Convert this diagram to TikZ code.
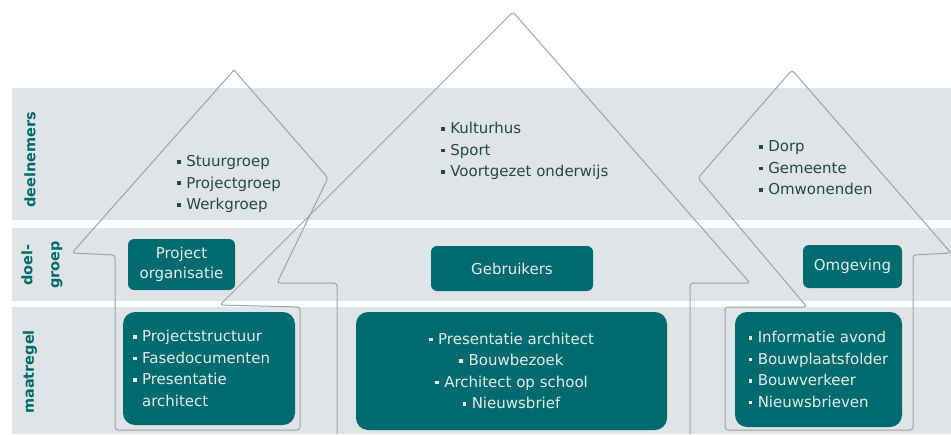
\documentclass[tikz,border=0pt]{standalone}
\usepackage{fontspec}
\setmainfont{DejaVu Sans}

\definecolor{bandgray}{HTML}{DFE5E6}
\definecolor{tealdark}{HTML}{006B6E}
\definecolor{linegray}{HTML}{A0A2A3}
\definecolor{listtext}{HTML}{24474C}
\definecolor{boxtext}{HTML}{E4ECEC}

% 小さな四角の箇条書き記号
\newcommand{\sqblt}{\raisebox{3pt}{\rule{3.6pt}{3.6pt}}\hspace{5.5pt}}

\begin{document}
\begin{tikzpicture}[x=1pt, y=-1pt,
    outline/.style={draw=linegray, line width=1pt, rounded corners=3pt},
    tealbox/.style={rectangle, rounded corners=6pt, fill=tealdark, text=boxtext, inner sep=0pt, font=\fontsize{15}{20}\selectfont},
    listbox/.style={tealbox, rounded corners=12pt, font=\fontsize{15}{21.5}\selectfont},
    plist/.style={anchor=west, align=left, text=listtext, inner sep=0pt, font=\fontsize{15}{21.5}\selectfont},
    sidelabel/.style={rotate=90, text=tealdark, align=center, inner sep=0pt, font=\bfseries\fontsize{14.5}{27}\selectfont}]
    \useasboundingbox (0, 0) rectangle (951, 434);

    % 背景の帯
    \fill[bandgray] (12, 88) rectangle (951, 220);
    \fill[bandgray] (12, 228) rectangle (951, 301);
    \fill[bandgray] (12, 307) rectangle (951, 434);

    % 左の見出し
    \node[sidelabel] (deelnemers) at (30, 160) {deelnemers};
    \node[sidelabel] (doelgroep) at (42, 265) {doel-\\groep};
    \node[sidelabel] (maatregel) at (30, 372) {maatregel};

    % 矢印の輪郭
    \draw[outline] (234, 70) -- (72, 253) -- (115, 255) -- (115, 430) -- (300, 430) -- (300, 307)
        -- (220, 305) -- (513, 12) -- (750, 283) -- (690, 283) -- (690, 434);
    \draw[outline] (234, 70) -- (328, 178) -- (277, 283) -- (337, 283) -- (337, 434);
    \draw[outline] (792, 70) -- (698, 178) -- (807, 307) -- (725, 307) -- (725, 430) -- (913, 430)
        -- (913, 255) -- (951, 253) -- cycle;

    % deelnemers
    \node[plist] (leftlist) at (177, 184) {\sqblt Stuurgroep\\\sqblt Projectgroep\\\sqblt Werkgroep};
    \node[plist] (midlist) at (441, 151) {\sqblt Kulturhus\\\sqblt Sport\\\sqblt Voortgezet onderwijs};
    \node[plist] (rightlist) at (759, 168) {\sqblt Dorp\\\sqblt Gemeente\\\sqblt Omwonenden};

    % doelgroep
    \node[tealbox, minimum width=107, minimum height=51, align=center] (projorg) at (181.5, 264.5) {Project\\organisatie};
    \node[tealbox, minimum width=162, minimum height=45] (gebruikers) at (512, 268.5) {Gebruikers};
    \node[tealbox, minimum width=99, minimum height=43] (omgeving) at (852.5, 266.5) {Omgeving};

    % maatregel
    \node[listbox, text width=152, inner xsep=10, minimum height=113, align=left] (leftbox) at (209, 368.5)
        {\sqblt Projectstructuur\\\sqblt Fasedocumenten\\\sqblt Presentatie\\\hphantom{\sqblt}architect};
    \node[listbox, minimum width=311, minimum height=118, align=center] (midbox) at (511.5, 371)
        {\sqblt Presentatie architect\\\sqblt Bouwbezoek\\\sqblt Architect op school\\\sqblt Nieuwsbrief};
    \node[listbox, minimum width=167, minimum height=115, align=left] (rightbox) at (818.5, 369.5)
        {\sqblt Informatie avond\\\sqblt Bouwplaatsfolder\\\sqblt Bouwverkeer\\\sqblt Nieuwsbrieven};
\end{tikzpicture}
\end{document}
